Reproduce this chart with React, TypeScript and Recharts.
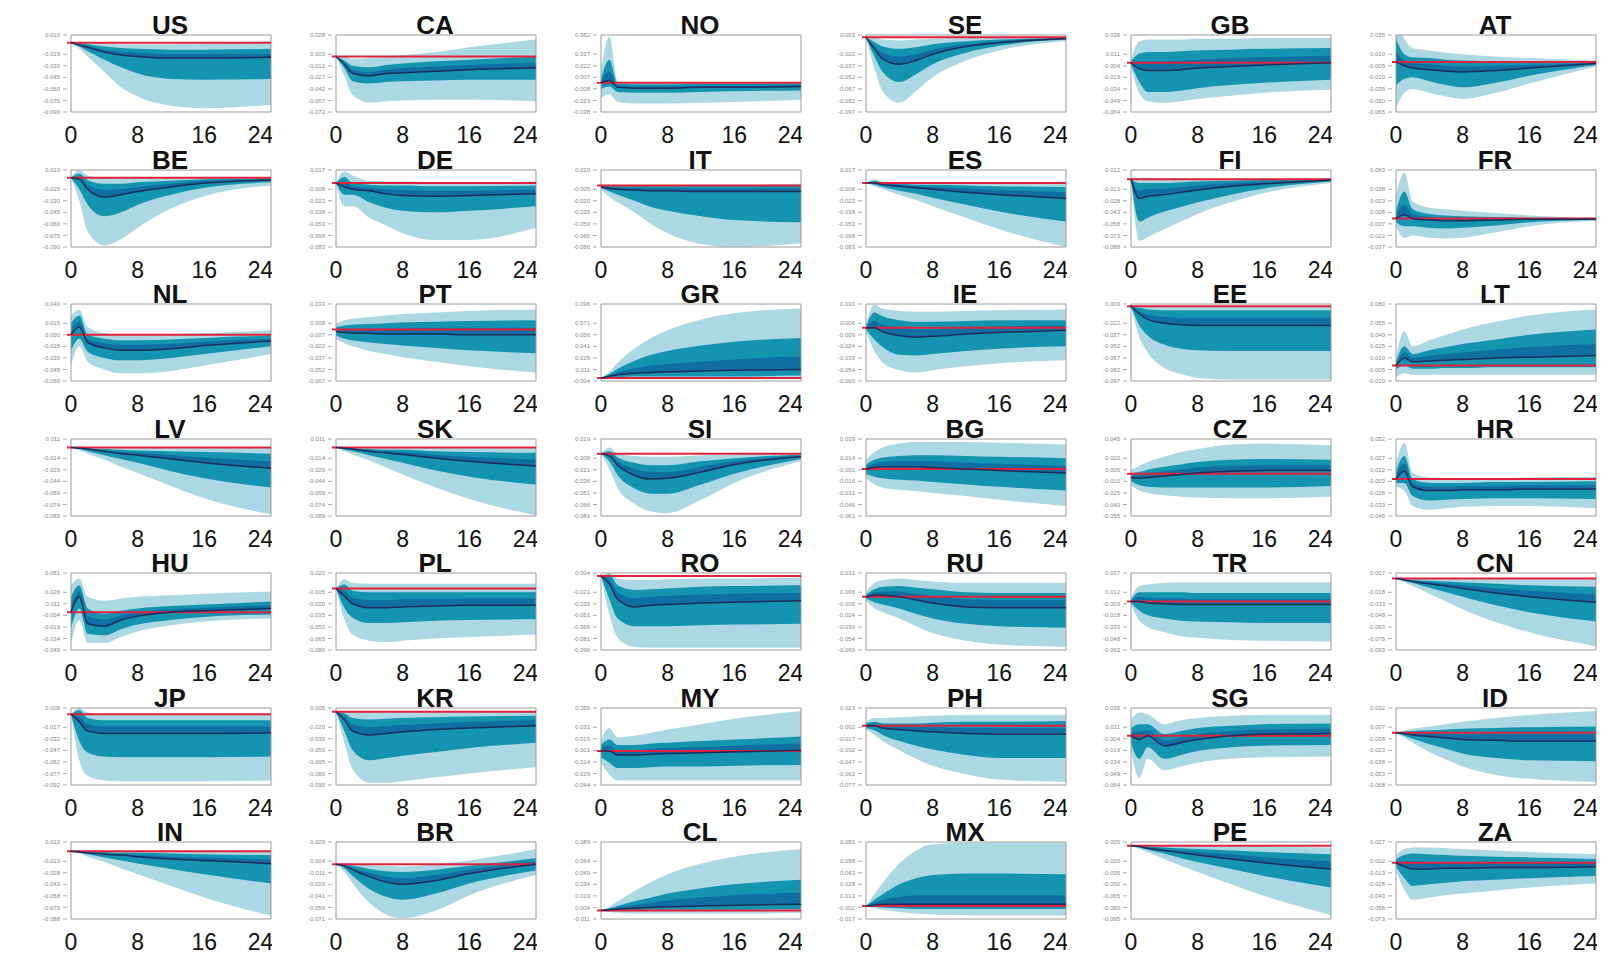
import React from "react";
import { ComposedChart, Area, Line, XAxis, YAxis, ReferenceLine, ReferenceArea } from "recharts";

// Horizons (quarters) at which the impulse responses are read
const HORIZONS = [0, 1, 2, 4, 6, 8, 12, 16, 24];
const X_TICKS = [0, 8, 16, 24];

const COUNTRIES = [
  "US", "CA", "NO", "SE", "GB", "AT",
  "BE", "DE", "IT", "ES", "FI", "FR",
  "NL", "PT", "GR", "IE", "EE", "LT",
  "LV", "SK", "SI", "BG", "CZ", "HR",
  "HU", "PL", "RO", "RU", "TR", "CN",
  "JP", "KR", "MY", "PH", "SG", "ID",
  "IN", "BR", "CL", "MX", "PE", "ZA",
];

// Upper limit of each panel's y range (response units x1000); each panel spans 100 units
const Y_TOP = [
  10, 28, 62, 3, 36, 35,
  10, 17, 20, 17, 12, 63,
  40, 33, 96, 31, 3, 80,
  11, 11, 19, 39, 45, 52,
  51, 20, 4, 31, 37, 7,
  8, 5, 56, 23, 36, 32,
  12, 29, 89, 83, 5, 27,
];

// Each row: [lower 90%, lower 68%, median, upper edge of dark core, upper 68%, upper 90%]
const US = [[0,0,0,0,0,0],[-8,-5,-3,-2,-1,0],[-18,-11,-6,-4,-2,0],[-38,-22,-12,-9,-5,-1],[-58,-32,-16,-12,-7,-2],[-70,-40,-18,-13,-8,-2],[-82,-47,-20,-15,-9,-2],[-85,-48,-20,-15,-9,-1],[-81,-47,-19,-14,-8,2]];
const CA = [[0,0,0,0,0,0],[-25,-15,-10,-8,-5,0],[-50,-32,-22,-17,-12,-3],[-60,-35,-25,-20,-14,-2],[-58,-33,-22,-17,-11,0],[-57,-32,-21,-15,-9,2],[-56,-31,-19,-13,-6,6],[-56,-30,-17,-11,-4,12],[-58,-30,-15,-8,0,22]];
const NO = [[-20,-8,0,2,5,15],[-15,-5,3,15,30,60],[-25,-12,-6,-4,-1,2],[-27,-13,-7,-5,-2,1],[-27,-13,-7,-5,-2,1],[-27,-13,-7,-5,-2,1],[-26,-12,-6,-4,-1,1],[-25,-11,-6,-4,-1,1],[-22,-10,-5,-3,-1,1]];
const SE = [[0,0,0,0,0,0],[-40,-25,-15,-11,-6,-1],[-70,-45,-28,-20,-12,-3],[-85,-58,-35,-25,-15,-4],[-70,-48,-30,-22,-13,-3],[-52,-35,-22,-16,-9,-2],[-30,-20,-12,-9,-5,-1],[-17,-11,-7,-5,-3,0],[-5,-3,-2,-1,-1,0]];
const GB = [[-5,-2,0,1,2,5],[-40,-25,-8,2,12,28],[-50,-38,-10,2,14,30],[-52,-38,-10,2,14,30],[-50,-36,-9,3,15,30],[-47,-33,-7,4,16,31],[-43,-29,-5,6,17,31],[-39,-26,-3,7,18,32],[-35,-22,0,9,19,32]];
const AT = [[-60,-30,0,15,30,60],[-40,-22,-5,2,10,30],[-35,-20,-8,-1,6,18],[-40,-25,-10,-3,5,15],[-45,-30,-12,-5,3,12],[-48,-33,-13,-6,2,10],[-40,-27,-11,-5,1,7],[-28,-18,-8,-4,1,5],[-6,-4,-2,-1,0,2]];
const BE = [[0,0,0,0,0,0],[-30,-15,-2,1,5,10],[-70,-35,-15,-9,-3,3],[-88,-50,-25,-16,-8,0],[-80,-45,-22,-15,-8,0],[-65,-35,-18,-12,-6,0],[-40,-22,-12,-8,-4,0],[-24,-13,-7,-4,-2,0],[-10,-6,-3,-2,-1,1]];
const DE = [[0,0,0,0,0,0],[-30,-15,-5,1,8,15],[-30,-15,-8,-4,0,10],[-45,-25,-10,-6,-2,3],[-55,-32,-14,-8,-3,2],[-65,-36,-16,-9,-3,2],[-74,-38,-17,-10,-4,1],[-74,-36,-16,-10,-4,1],[-58,-30,-14,-8,-3,2]];
const IT = [[-5,-3,-2,-1,0,1],[-15,-8,-4,-2,-1,1],[-22,-12,-5,-3,-1,1],[-35,-20,-6,-3,-1,1],[-50,-28,-7,-4,-1,1],[-62,-33,-7,-4,-1,1],[-76,-40,-8,-4,-1,1],[-80,-45,-8,-4,-1,1],[-75,-48,-8,-4,0,2]];
const ES = [[0,0,0,0,0,0],[-4,-2,0,1,3,5],[-8,-5,-2,-1,0,2],[-15,-10,-4,-2,-1,1],[-22,-14,-6,-4,-2,1],[-30,-19,-8,-5,-2,1],[-45,-28,-12,-7,-3,1],[-60,-37,-15,-9,-4,1],[-83,-50,-20,-12,-5,1]];
const FI = [[0,0,0,0,0,0],[-80,-55,-25,-15,-5,2],[-75,-50,-22,-13,-5,2],[-65,-42,-20,-12,-5,1],[-55,-36,-17,-10,-4,1],[-45,-30,-14,-8,-3,1],[-30,-20,-9,-5,-2,1],[-18,-12,-6,-3,-1,1],[-5,-3,-1,-1,0,1]];
const FR = [[-10,-5,0,5,10,30],[-25,-10,5,18,35,60],[-22,-10,0,6,12,22],[-25,-12,-2,2,6,14],[-26,-13,-3,0,4,12],[-25,-12,-3,0,3,10],[-18,-9,-2,0,2,7],[-10,-5,-1,0,1,4],[-3,-2,-1,-1,0,1]];
const NL = [[-40,-20,0,7,15,25],[-15,-5,10,17,25,33],[-35,-22,-10,-5,0,10],[-45,-30,-17,-11,-5,2],[-50,-33,-20,-13,-7,0],[-50,-33,-20,-13,-7,0],[-47,-30,-18,-12,-6,1],[-40,-25,-14,-9,-4,2],[-25,-15,-8,-5,-1,6]];
const PT = [[-12,-8,-3,0,3,8],[-18,-12,-4,0,5,12],[-22,-14,-5,0,6,14],[-28,-17,-5,1,7,16],[-32,-19,-6,1,8,18],[-36,-21,-6,1,9,20],[-42,-24,-6,2,10,22],[-48,-27,-7,2,11,24],[-56,-31,-7,2,12,26]];
const GR = [[0,0,0,0,0,0],[-1,0,2,3,5,8],[-1,1,4,7,12,20],[-1,2,6,12,22,38],[-1,2,7,16,30,52],[-1,2,8,18,35,62],[-1,2,9,21,42,76],[-1,2,10,24,47,84],[-1,3,11,28,52,90]];
const IE = [[-5,-2,0,1,2,5],[-30,-15,0,9,20,30],[-45,-25,-5,4,15,25],[-55,-35,-10,0,10,22],[-58,-36,-12,-2,8,21],[-55,-34,-11,-2,8,21],[-50,-30,-8,0,9,22],[-46,-27,-6,2,10,23],[-42,-24,-3,3,10,24]];
const EE = [[0,0,0,0,0,0],[-40,-25,-10,-6,-2,1],[-60,-38,-17,-11,-4,0],[-80,-50,-22,-14,-5,0],[-88,-55,-24,-15,-5,0],[-93,-57,-25,-15,-5,0],[-95,-58,-25,-15,-5,0],[-95,-58,-25,-15,-5,0],[-95,-58,-25,-15,-5,0]];
const LT = [[-15,-5,0,2,5,10],[-10,0,10,17,25,45],[-12,-4,5,10,15,25],[-12,-4,6,13,20,33],[-12,-3,7,15,24,40],[-12,-3,8,17,28,47],[-12,-2,10,21,34,57],[-12,-2,11,24,40,65],[-12,-2,13,28,47,73]];
const LV = [[0,0,0,0,0,0],[-4,-2,-1,-1,0,1],[-8,-5,-2,-2,-1,1],[-16,-10,-5,-4,-2,1],[-25,-15,-8,-6,-3,0],[-33,-20,-10,-7,-4,0],[-50,-31,-15,-10,-5,0],[-66,-40,-20,-13,-6,0],[-87,-52,-27,-18,-8,0]];
const SK = [[0,0,0,0,0,0],[-5,-3,-1,-1,0,1],[-9,-5,-2,-2,-1,0],[-17,-10,-5,-4,-2,0],[-26,-15,-7,-5,-3,0],[-35,-20,-9,-6,-3,0],[-52,-30,-14,-10,-5,0],[-67,-38,-18,-12,-6,0],[-88,-48,-24,-16,-7,0]];
const SI = [[0,0,0,0,0,0],[-20,-10,-3,0,3,8],[-45,-28,-15,-10,-5,0],[-65,-45,-28,-20,-12,-3],[-75,-52,-33,-24,-15,-4],[-77,-52,-32,-24,-15,-4],[-60,-40,-24,-17,-10,-2],[-38,-26,-14,-10,-6,-1],[-10,-7,-4,-3,-1,1]];
const BG = [[-12,-6,0,3,6,12],[-20,-10,2,7,12,22],[-24,-12,3,9,15,28],[-27,-14,3,10,17,33],[-29,-15,3,10,18,35],[-31,-17,2,10,18,35],[-35,-20,0,8,17,35],[-40,-23,-2,7,16,34],[-48,-28,-5,4,14,32]];
const CZ = [[-15,-10,-5,-3,0,5],[-22,-15,-6,-2,2,10],[-25,-17,-5,0,5,15],[-28,-18,-3,3,9,22],[-30,-18,-1,5,12,28],[-31,-18,1,8,15,32],[-32,-18,3,10,18,38],[-32,-18,4,11,19,39],[-30,-16,4,11,18,37]];
const HR = [[-10,-5,0,5,10,20],[-15,-5,10,20,30,47],[-35,-22,-10,-5,0,8],[-40,-28,-15,-10,-5,2],[-38,-27,-15,-10,-5,1],[-36,-26,-14,-9,-5,1],[-35,-25,-14,-9,-4,1],[-35,-25,-13,-8,-4,2],[-38,-26,-13,-8,-3,3]];
const HU = [[-40,-20,0,10,20,35],[-10,5,20,27,35,44],[-40,-28,-15,-5,5,20],[-40,-30,-18,-10,-2,15],[-32,-22,-10,-4,2,18],[-25,-16,-5,0,5,20],[-17,-10,0,4,8,22],[-12,-6,2,6,10,24],[-8,-3,5,9,14,27]];
const PL = [[0,0,0,0,0,0],[-40,-25,-10,-3,5,12],[-60,-38,-20,-12,-3,7],[-68,-45,-25,-15,-5,6],[-70,-45,-25,-15,-5,6],[-68,-44,-24,-14,-5,6],[-65,-42,-23,-14,-5,6],[-63,-41,-22,-13,-5,6],[-60,-40,-22,-13,-5,6]];
const RO = [[0,0,0,0,0,0],[-50,-30,-10,-4,2,4],[-80,-55,-30,-21,-12,-3],[-92,-65,-40,-29,-18,-5],[-93,-65,-38,-27,-17,-5],[-93,-65,-37,-26,-16,-4],[-93,-64,-35,-24,-14,-3],[-93,-63,-34,-23,-13,-3],[-93,-62,-32,-22,-12,-2]];
const RU = [[-5,-2,0,1,3,6],[-15,-7,2,6,10,18],[-20,-10,2,7,13,22],[-28,-15,0,7,14,24],[-38,-22,-4,4,12,22],[-47,-28,-8,1,10,20],[-57,-35,-13,-3,6,18],[-62,-38,-14,-4,5,18],[-65,-40,-14,-4,5,18]];
const TR = [[-5,-2,0,1,3,5],[-25,-12,0,6,12,20],[-33,-18,-2,5,12,22],[-40,-22,-3,4,12,24],[-45,-25,-4,4,12,25],[-47,-26,-4,3,11,25],[-50,-27,-4,3,11,25],[-51,-28,-4,3,11,25],[-52,-28,-4,3,11,25]];
const CN = [[0,0,0,0,0,0],[-5,-3,-2,-1,-1,0],[-10,-6,-4,-3,-2,0],[-20,-12,-7,-5,-3,0],[-30,-18,-10,-7,-4,-1],[-40,-24,-13,-9,-5,-1],[-57,-35,-19,-13,-7,-1],[-70,-44,-24,-16,-9,-1],[-88,-56,-31,-21,-11,-1]];
const JP = [[0,0,0,0,0,0],[-60,-35,-10,-3,5,8],[-80,-50,-22,-13,-5,2],[-86,-55,-25,-16,-8,0],[-87,-56,-25,-16,-8,0],[-87,-56,-25,-16,-8,0],[-87,-56,-25,-16,-8,0],[-87,-56,-25,-16,-8,0],[-86,-55,-24,-16,-8,0]];
const KR = [[0,0,0,0,0,0],[-40,-25,-10,-6,-2,1],[-75,-50,-25,-16,-8,0],[-92,-63,-30,-20,-10,0],[-92,-60,-28,-18,-9,0],[-90,-57,-26,-17,-8,0],[-85,-52,-23,-15,-7,0],[-80,-47,-21,-13,-6,1],[-72,-40,-18,-11,-5,1]];
const MY = [[-15,-8,0,4,8,15],[-30,-15,0,7,15,30],[-38,-22,-5,1,8,18],[-38,-22,-5,1,8,20],[-38,-21,-4,3,10,24],[-38,-20,-3,4,11,28],[-38,-20,-2,5,13,35],[-38,-19,-1,7,15,42],[-38,-18,1,10,19,52]];
const PH = [[-5,-3,0,1,3,5],[-12,-6,0,2,5,10],[-20,-12,-3,0,3,10],[-32,-20,-5,-1,3,11],[-43,-26,-7,-2,3,12],[-52,-31,-8,-2,4,13],[-63,-38,-10,-3,5,14],[-70,-42,-11,-3,5,14],[-73,-42,-11,-3,6,14]];
const SG = [[-20,-10,0,5,10,20],[-55,-30,-5,5,15,30],[-30,-15,0,7,15,28],[-45,-30,-13,-6,2,15],[-40,-25,-9,-2,6,20],[-35,-20,-5,2,10,23],[-30,-15,0,6,13,26],[-28,-13,2,8,15,27],[-27,-12,3,9,16,27]];
const ID = [[0,0,0,0,0,0],[-7,-4,-1,0,1,3],[-13,-8,-3,-1,2,5],[-25,-15,-5,-1,3,8],[-35,-21,-7,-2,4,11],[-44,-27,-9,-2,5,14],[-55,-33,-10,-2,6,19],[-60,-36,-11,-2,7,23],[-64,-37,-11,-2,8,28]];
const IN = [[0,0,0,0,0,0],[-3,-2,-1,-1,0,1],[-7,-4,-2,-2,-1,0],[-14,-8,-4,-3,-1,0],[-22,-12,-5,-4,-2,0],[-30,-16,-7,-5,-2,0],[-45,-23,-10,-7,-3,0],[-60,-30,-12,-8,-4,0],[-84,-42,-16,-11,-5,0]];
const BR = [[0,0,0,0,0,0],[-10,-5,-2,-1,0,2],[-25,-15,-7,-5,-2,1],[-50,-32,-16,-11,-6,-1],[-65,-42,-23,-16,-9,-2],[-70,-46,-26,-18,-10,-3],[-60,-38,-21,-14,-7,0],[-40,-25,-12,-7,-2,5],[-14,-8,0,4,8,20]];
const CL = [[0,0,0,0,0,0],[-2,0,1,2,3,5],[-3,0,2,4,6,12],[-4,0,3,7,12,25],[-4,1,4,10,17,37],[-4,1,5,13,22,47],[-4,1,6,17,29,61],[-4,1,7,20,34,70],[-3,2,8,23,40,80]];
const MX = [[0,0,0,0,0,0],[-3,-1,1,4,8,15],[-5,-2,2,8,15,30],[-8,-3,2,12,28,55],[-10,-4,2,14,36,72],[-11,-4,2,14,40,80],[-12,-4,2,14,42,82],[-12,-4,2,14,42,82],[-12,-4,2,14,41,82]];
const PE = [[0,0,0,0,0,0],[-4,-2,-1,-1,0,1],[-8,-5,-3,-2,-1,0],[-17,-10,-6,-4,-2,0],[-26,-16,-9,-6,-3,0],[-34,-21,-12,-8,-4,-1],[-50,-30,-17,-11,-6,-1],[-65,-39,-22,-15,-8,-1],[-90,-54,-30,-20,-11,-2]];
const ZA = [[-10,-5,0,2,5,10],[-35,-20,-5,2,10,18],[-48,-30,-8,2,12,20],[-45,-28,-8,1,11,20],[-42,-26,-7,1,10,19],[-40,-24,-7,1,9,18],[-36,-22,-6,1,8,16],[-32,-20,-6,0,7,14],[-27,-17,-5,0,5,11]];

const IRFS = [
  US, CA, NO, SE, GB, AT,
  BE, DE, IT, ES, FI, FR,
  NL, PT, GR, IE, EE, LT,
  LV, SK, SI, BG, CZ, HR,
  HU, PL, RO, RU, TR, CN,
  JP, KR, MY, PH, SG, ID,
  IN, BR, CL, MX, PE, ZA,
];

const COLS = 6;
const COL_STEP = 265;
const ROW_STEP = 134.5;
const PANEL_W = 272;
const PANEL_H = 156;
const FONT = "'Liberation Sans', Arial, sans-serif";

const LIGHT = "#acd8e3";
const TEAL = "#1594b0";
const CORE = "#106fa1";
const MEDIAN = "#1d2d5c";
const RED = "#e3213b";

function Panel({ idx }: { idx: number }) {
  const rows = IRFS[idx];
  const top = Y_TOP[idx];
  const data = HORIZONS.map((h, i) => ({
    h,
    outer: [rows[i][0], rows[i][5]],
    inner: [rows[i][1], rows[i][4]],
    core: [rows[i][2], rows[i][3]],
    med: rows[i][2],
  }));
  const col = idx % COLS;
  const row = Math.floor(idx / COLS);
  return (
    <div style={{ position: "absolute", left: col * COL_STEP, top: row * ROW_STEP, width: PANEL_W, height: PANEL_H }}>
      <div
        style={{
          position: "absolute",
          left: 67,
          width: 206,
          top: 10,
          lineHeight: "30px",
          textAlign: "center",
          fontFamily: FONT,
          fontWeight: 700,
          fontSize: 26,
          color: "#111",
        }}
      >
        {COUNTRIES[idx]}
      </div>
      <ComposedChart
        width={PANEL_W}
        height={PANEL_H}
        data={data}
        margin={{ top: 35, right: 1, bottom: 0, left: 22 }}
      >
        <XAxis
          dataKey="h"
          type="number"
          domain={[0, 24]}
          ticks={X_TICKS}
          tickLine={false}
          axisLine={false}
          tickSize={6}
          tickMargin={9}
          height={44}
          padding={{ left: 4, right: 0 }}
          tick={{ fontSize: 23, fill: "#111", fontFamily: FONT }}
        />
        <YAxis
          type="number"
          domain={[top - 100, top]}
          allowDataOverflow
          tickCount={8}
          width={45}
          axisLine={false}
          tickLine={{ stroke: "#aaa" }}
          tickSize={4}
          tickMargin={3}
          tickFormatter={(v: number) => (v / 1000).toFixed(3)}
          tick={{ fontSize: 6, fill: "#888", fontFamily: FONT }}
        />
        <Area type="monotone" dataKey="outer" stroke="none" fill={LIGHT} fillOpacity={1} isAnimationActive={false} />
        <Area type="monotone" dataKey="inner" stroke="none" fill={TEAL} fillOpacity={1} isAnimationActive={false} />
        <Area type="monotone" dataKey="core" stroke="none" fill={CORE} fillOpacity={1} isAnimationActive={false} />
        <ReferenceLine y={0} stroke={RED} strokeWidth={2} />
        <Line type="monotone" dataKey="med" stroke={MEDIAN} strokeWidth={1.5} dot={false} isAnimationActive={false} />
        <ReferenceArea x1={0} x2={24} y1={top - 100} y2={top} fill="none" stroke="#9a9a9a" strokeWidth={1} />
      </ComposedChart>
    </div>
  );
}

export default function App() {
  return (
    <div
      style={{
        position: "absolute",
        left: 0,
        top: 0,
        width: 1615,
        height: 959,
        background: "#fff",
        overflow: "hidden",
      }}
    >
      {COUNTRIES.map((c, i) => (
        <Panel key={c} idx={i} />
      ))}
    </div>
  );
}
